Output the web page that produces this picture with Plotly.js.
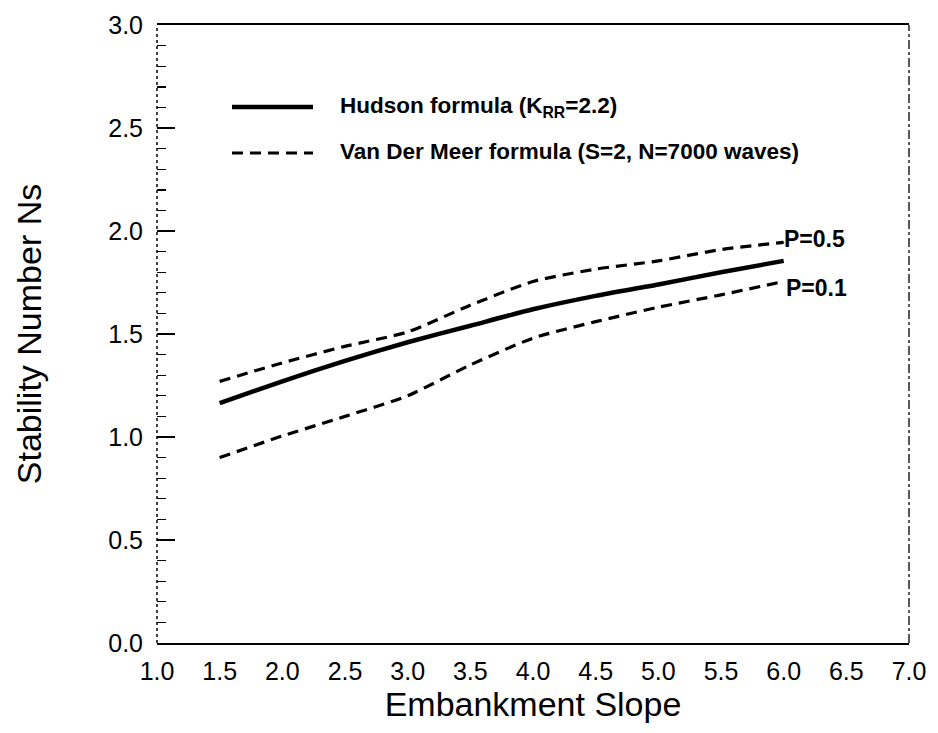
<!DOCTYPE html>
<html>
<head>
<meta charset="utf-8">
<script src="https://cdn.plot.ly/plotly-3.0.1.min.js"></script>
<style>html,body{margin:0;padding:0;background:#fff;}#chart{width:938px;height:733px;}</style>
</head>
<body>
<div id="chart"></div>
<script>
// Embankment slope (cot alpha)
const slope = [1.5, 2.0, 2.5, 3.0, 3.5, 4.0, 4.5, 5.0, 5.5, 6.0];
// Hudson formula (K_RR = 2.2)
const hudson = [1.165, 1.27, 1.37, 1.46, 1.54, 1.62, 1.685, 1.74, 1.80, 1.855];
// Van Der Meer formula, P = 0.5
const vdmP05 = [1.27, 1.36, 1.44, 1.51, 1.64, 1.755, 1.815, 1.855, 1.91, 1.945];
// Van Der Meer formula, P = 0.1
const vdmP01 = [0.90, 1.005, 1.10, 1.20, 1.35, 1.48, 1.56, 1.63, 1.69, 1.755];

const xTicks = [1.0, 1.5, 2.0, 2.5, 3.0, 3.5, 4.0, 4.5, 5.0, 5.5, 6.0, 6.5, 7.0];
const yTicks = [0.0, 0.5, 1.0, 1.5, 2.0, 2.5, 3.0];

const legendLabels = ["Hudson formula (K<sub>RR</sub>=2.2)", "Van Der Meer formula (S=2, N=7000 waves)"];
const curveLabels = ["P=0.5", "P=0.1"];

const FONT = "Liberation Sans, Arial, Helvetica, sans-serif";

const traces = [
  {x: slope, y: hudson, mode: "lines", name: legendLabels[0],
   line: {color: "#000", width: 4.5, shape: "spline", smoothing: 0.6}},
  {x: slope, y: vdmP05, mode: "lines", name: legendLabels[1] + " P=0.5",
   line: {color: "#000", width: 3.2, dash: "11px,7px", shape: "spline", smoothing: 0.6}},
  {x: slope, y: vdmP01, mode: "lines", name: legendLabels[1] + " P=0.1",
   line: {color: "#000", width: 3.2, dash: "11px,7px", shape: "spline", smoothing: 0.6}}
];

const L = 157, R = 909, T = 25, B = 643;
const px = v => (v - L) / (R - L);
const py = v => (B - v) / (B - T);

const layout = {
  width: 938, height: 733,
  margin: {l: L, r: 938 - R, t: T, b: 733 - B},
  paper_bgcolor: "#fff", plot_bgcolor: "#fff",
  showlegend: false,
  font: {family: FONT, color: "#000"},
  xaxis: {
    range: [1, 7], tickvals: xTicks, ticktext: xTicks.map(v => v.toFixed(1)),
    showgrid: false, zeroline: false, showline: true, mirror: true,
    linecolor: "#000", linewidth: 2, ticks: "",
    tickfont: {family: FONT, size: 25, color: "#000"},
    ticklabelstandoff: 5,
    title: {text: "Embankment Slope", font: {family: FONT, size: 34, color: "#000"}, standoff: 0}
  },
  yaxis: {
    range: [0, 3], tickvals: yTicks, ticktext: yTicks.map(v => v.toFixed(1)),
    showgrid: false, zeroline: false, showline: false,
    ticks: "inside", ticklen: 18, tickwidth: 1.6, tickcolor: "#000",
    minor: {dtick: 0.1, ticks: "inside", ticklen: 9, tickwidth: 1.4, tickcolor: "#000", showgrid: false},
    tickfont: {family: FONT, size: 25, color: "#000"},
    ticklabelstandoff: 13,
    title: {text: "Stability Number Ns", font: {family: FONT, size: 34, color: "#000"}, standoff: 56}
  },
  shapes: [
    // left axis (dotted)
    {type: "line", xref: "paper", yref: "paper", x0: 0, x1: 0, y0: 0, y1: 1,
     line: {color: "#000", width: 1.5, dash: "dot"}},
    // right border (dash-dot)
    {type: "line", xref: "paper", yref: "paper", x0: 1, x1: 1, y0: 0, y1: 1,
     line: {color: "#222", width: 1.5, dash: "dashdot"}},
    // legend samples
    {type: "line", xref: "paper", yref: "paper", x0: px(232), x1: px(313), y0: py(107), y1: py(107),
     line: {color: "#000", width: 4.5}},
    {type: "line", xref: "paper", yref: "paper", x0: px(232), x1: px(313), y0: py(153), y1: py(153),
     line: {color: "#000", width: 3.2, dash: "11px,7px"}}
  ],
  annotations: [
    {xref: "paper", yref: "paper", x: px(338), y: py(107), xanchor: "left", yanchor: "middle",
     text: "<b>" + legendLabels[0] + "</b>", showarrow: false, font: {family: FONT, size: 22.5, color: "#000"}},
    {xref: "paper", yref: "paper", x: px(338), y: py(152), xanchor: "left", yanchor: "middle",
     text: "<b>" + legendLabels[1] + "</b>", showarrow: false, font: {family: FONT, size: 22.5, color: "#000"}},
    {x: 6.0, y: 1.96, xanchor: "left", yanchor: "middle", text: "<b>" + curveLabels[0] + "</b>", showarrow: false,
     xshift: -2, font: {family: FONT, size: 23, color: "#000"}},
    {x: 6.0, y: 1.725, xanchor: "left", yanchor: "middle", text: "<b>" + curveLabels[1] + "</b>", showarrow: false,
     xshift: 0, font: {family: FONT, size: 23, color: "#000"}}
  ]
};

Plotly.newPlot("chart", traces, layout, {staticPlot: true, displayModeBar: false});
</script>
</body>
</html>
